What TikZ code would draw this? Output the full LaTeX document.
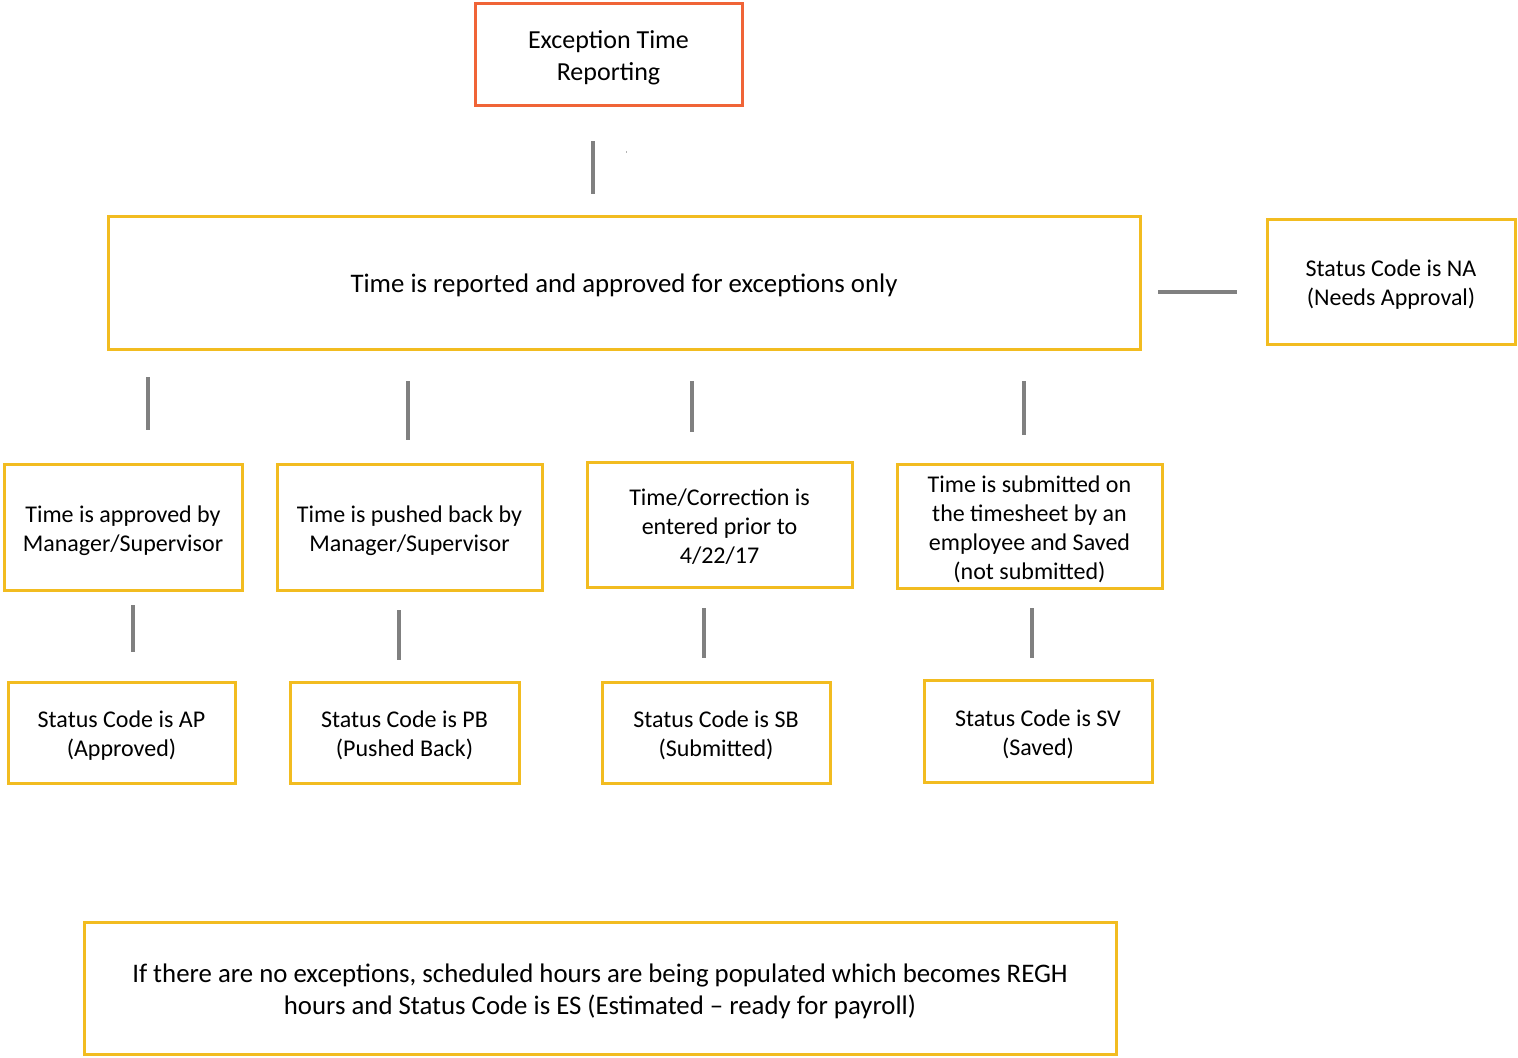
\documentclass[tikz,border=0pt]{standalone}
\usepackage{fontspec}
\setmainfont{Carlito}
\definecolor{gold}{RGB}{242,188,32}
\definecolor{orng}{RGB}{240,100,55}
\definecolor{lgray}{RGB}{128,128,128}
\newcommand{\tx}[1]{\raisebox{-2pt}[\height][\depth]{\begin{tabular}{@{}c@{}}#1\end{tabular}}}
\tikzset{
  box/.style={draw=gold, line width=1.5pt, inner sep=0pt, font=\fontsize{12}{14.5}\selectfont},
  bigbox/.style={box, font=\fontsize{13.4}{16}\selectfont},
  topbox/.style={draw=orng, line width=1.5pt, inner sep=0pt, font=\fontsize{13}{16}\selectfont},
  link/.style={draw=lgray, line width=1.6pt}
}
\begin{document}
\begin{tikzpicture}[x=0.5pt,y=-0.5pt]
\useasboundingbox (0,0) rectangle (1518,1057);
% top
\node[topbox, minimum width=133.5pt, minimum height=51pt] (top) at (608.5,54) {\tx{Exception Time\\Reporting}};
\node[bigbox, minimum width=516pt, minimum height=66.5pt] (main) at (624,282.5) {\tx{Time is reported and approved for exceptions only}};
\node[box, minimum width=124pt, minimum height=62.5pt] (na) at (1391,281.5) {\tx{Status Code is NA\\(Needs Approval)}};
% row 2
\node[box, minimum width=119pt, minimum height=63pt] (a) at (123,527) {\tx{Time is approved by\\Manager/Supervisor}};
\node[box, minimum width=132.5pt, minimum height=63pt] (b) at (409.5,527) {\tx{Time is pushed back by\\Manager/Supervisor}};
\node[box, minimum width=132.5pt, minimum height=62.5pt] (c) at (719.5,524.5) {\tx{Time/Correction is\\entered prior to\\4/22/17}};
\node[box, minimum width=132.5pt, minimum height=62pt] (d) at (1029.5,526) {\tx{Time is submitted on\\the timesheet by an\\employee and Saved\\(not submitted)}};
% row 3
\node[box, minimum width=113.5pt, minimum height=50.5pt] (ap) at (121.5,732.5) {\tx{Status Code is AP\\(Approved)}};
\node[box, minimum width=114.5pt, minimum height=50.5pt] (pb) at (404.5,732.5) {\tx{Status Code is PB\\(Pushed Back)}};
\node[box, minimum width=114pt, minimum height=50.5pt] (sb) at (716,732.5) {\tx{Status Code is SB\\(Submitted)}};
\node[box, minimum width=114pt, minimum height=51pt] (sv) at (1038,731) {\tx{Status Code is SV\\(Saved)}};
% bottom
\node[bigbox, minimum width=516pt, minimum height=66pt] (note) at (600,988) {\tx{If there are no exceptions, scheduled hours are being populated which becomes REGH\\hours and Status Code is ES (Estimated -- ready for payroll)}};
% free-standing connector strokes
\coordinate (l1a) at (593,141); \coordinate (l1b) at (593,194);
\coordinate (h1a) at (1158,292); \coordinate (h1b) at (1237,292);
\coordinate (v1a) at (148,377); \coordinate (v1b) at (148,430);
\coordinate (v2a) at (408,381); \coordinate (v2b) at (408,440);
\coordinate (v3a) at (692,381); \coordinate (v3b) at (692,432);
\coordinate (v4a) at (1024,381); \coordinate (v4b) at (1024,435);
\coordinate (w1a) at (133,605); \coordinate (w1b) at (133,652);
\coordinate (w2a) at (399,610); \coordinate (w2b) at (399,660);
\coordinate (w3a) at (704,608); \coordinate (w3b) at (704,658);
\coordinate (w4a) at (1032,608); \coordinate (w4b) at (1032,658);
\coordinate (dota) at (626,151); \coordinate (dotb) at (626,153);
\foreach \p in {l1,h1,v1,v2,v3,v4,w1,w2,w3,w4}{\draw[link] (\p a) -- (\p b);}
\draw[draw=lgray!60, line width=0.5pt] (dota) -- (dotb);
\end{tikzpicture}
\end{document}
